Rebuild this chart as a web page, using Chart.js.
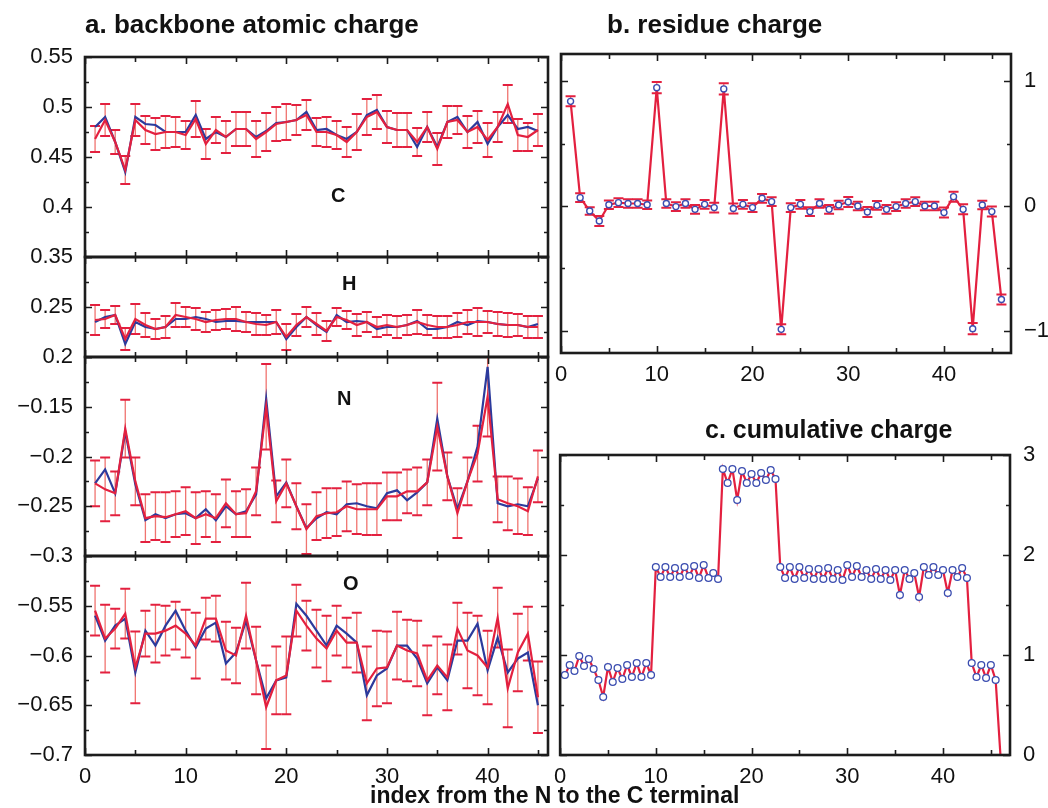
<!DOCTYPE html>
<html>
<head>
<meta charset="utf-8">
<script src="https://cdn.jsdelivr.net/npm/chart.js@4.4.1/dist/chart.umd.min.js"></script>
<style>
  body { margin: 0; width: 1048px; height: 808px; background: #fff; position: relative; overflow: hidden;
         font-family: "Liberation Sans", Arial, sans-serif; color: #111; }
  canvas { position: absolute; }
  .lbl { position: absolute; font-weight: bold; white-space: nowrap; line-height: 1; }
</style>
</head>
<body>
<canvas id="chC" width="570" height="260" style="left:0;top:27px"></canvas>
<canvas id="chH" width="570" height="160" style="left:0;top:227px"></canvas>
<canvas id="chN" width="570" height="259" style="left:0;top:327px"></canvas>
<canvas id="chO" width="570" height="269" style="left:0;top:526px"></canvas>
<canvas id="chB" width="503" height="369" style="left:545px;top:24px"></canvas>
<canvas id="chCum" width="503" height="370" style="left:545px;top:425px"></canvas>

<div class="lbl" style="left:85px;top:11px;font-size:26px">a. backbone atomic charge</div>
<div class="lbl" style="left:607px;top:11px;font-size:26px">b. residue charge</div>
<div class="lbl" style="left:705px;top:417px;font-size:25px">c. cumulative charge</div>
<div class="lbl" style="left:370px;top:784px;font-size:23px">index from the N to the C terminal</div>
<div class="lbl" style="left:331px;top:185px;font-size:20px">C</div>
<div class="lbl" style="left:342px;top:273px;font-size:20px">H</div>
<div class="lbl" style="left:337px;top:388px;font-size:20px">N</div>
<div class="lbl" style="left:343px;top:573px;font-size:20px">O</div>

<script>
// residue index along the chain
var residues = [1,2,3,4,5,6,7,8,9,10,11,12,13,14,15,16,17,18,19,20,21,22,23,24,25,26,27,28,29,30,
                31,32,33,34,35,36,37,38,39,40,41,42,43,44,45];
var residuesB = [1,2,3,4,5,6,7,8,9,10,11,12,13,14,15,16,17,18,19,20,21,22,23,24,25,26,27,28,29,30,
                 31,32,33,34,35,36,37,38,39,40,41,42,43,44,45,46];

// a. backbone atomic charge (red = mean with error bar, blue = second set)
var cRed  = [0.468,0.487,0.465,0.437,0.487,0.477,0.473,0.475,0.475,0.472,0.488,0.463,0.477,0.470,0.478,
             0.478,0.468,0.475,0.483,0.485,0.487,0.492,0.475,0.475,0.472,0.465,0.475,0.490,0.495,0.480,
             0.477,0.477,0.465,0.480,0.458,0.485,0.487,0.475,0.480,0.467,0.480,0.503,0.472,0.470,0.477];
var cBlue = [0.480,0.490,0.465,0.435,0.490,0.483,0.482,0.475,0.475,0.475,0.492,0.468,0.475,0.470,0.478,
             0.478,0.470,0.476,0.484,0.485,0.487,0.495,0.477,0.478,0.472,0.468,0.475,0.492,0.497,0.480,
             0.477,0.477,0.460,0.480,0.460,0.485,0.490,0.475,0.485,0.463,0.480,0.492,0.478,0.480,0.476];
var cErr  = [0.013,0.016,0.012,0.014,0.016,0.014,0.016,0.016,0.015,0.014,0.018,0.015,0.013,0.016,0.017,
             0.017,0.018,0.019,0.017,0.018,0.015,0.015,0.014,0.015,0.014,0.015,0.018,0.018,0.017,0.016,
             0.017,0.017,0.014,0.015,0.016,0.016,0.014,0.016,0.016,0.017,0.015,0.019,0.016,0.014,0.016];

var hRed  = [0.237,0.238,0.242,0.218,0.238,0.232,0.228,0.230,0.242,0.240,0.238,0.235,0.237,0.238,0.238,
             0.235,0.233,0.232,0.235,0.220,0.232,0.240,0.233,0.226,0.240,0.237,0.232,0.235,0.230,0.232,
             0.230,0.232,0.235,0.232,0.230,0.230,0.232,0.235,0.235,0.235,0.233,0.232,0.232,0.230,0.230];
var hBlue = [0.235,0.240,0.242,0.213,0.235,0.230,0.228,0.230,0.238,0.238,0.240,0.238,0.235,0.236,0.236,
             0.235,0.235,0.235,0.235,0.218,0.230,0.240,0.232,0.225,0.242,0.235,0.236,0.235,0.228,0.230,
             0.230,0.232,0.236,0.228,0.228,0.230,0.235,0.232,0.236,0.235,0.233,0.232,0.232,0.230,0.233];
var hErr  = [0.015,0.009,0.009,0.011,0.015,0.012,0.010,0.011,0.012,0.010,0.011,0.010,0.010,0.010,0.012,
             0.010,0.011,0.010,0.012,0.013,0.011,0.010,0.011,0.010,0.009,0.009,0.011,0.010,0.010,0.010,
             0.011,0.010,0.012,0.010,0.011,0.011,0.012,0.012,0.014,0.011,0.012,0.012,0.011,0.011,0.011];

var nRed  = [-0.227,-0.233,-0.237,-0.172,-0.225,-0.262,-0.260,-0.261,-0.258,-0.255,-0.262,-0.258,-0.262,-0.247,-0.258,
             -0.257,-0.235,-0.150,-0.245,-0.227,-0.250,-0.273,-0.260,-0.257,-0.256,-0.250,-0.253,-0.253,-0.253,-0.240,
             -0.240,-0.235,-0.235,-0.226,-0.170,-0.220,-0.257,-0.225,-0.197,-0.140,-0.243,-0.247,-0.250,-0.255,-0.220];
var nBlue = [-0.227,-0.213,-0.237,-0.175,-0.228,-0.264,-0.258,-0.262,-0.258,-0.257,-0.262,-0.253,-0.264,-0.250,-0.258,
             -0.255,-0.238,-0.142,-0.240,-0.226,-0.250,-0.272,-0.262,-0.256,-0.258,-0.248,-0.247,-0.250,-0.252,-0.237,
             -0.234,-0.244,-0.236,-0.226,-0.162,-0.220,-0.253,-0.225,-0.190,-0.110,-0.247,-0.250,-0.248,-0.250,-0.222];
var nErr  = [0.023,0.032,0.022,0.029,0.024,0.024,0.024,0.025,0.023,0.024,0.026,0.023,0.024,0.024,0.023,
             0.024,0.024,0.043,0.021,0.024,0.023,0.025,0.024,0.025,0.024,0.025,0.025,0.026,0.026,0.024,
             0.024,0.022,0.024,0.023,0.044,0.024,0.025,0.024,0.028,0.040,0.023,0.027,0.028,0.024,0.026];

var oRed  = [-0.555,-0.583,-0.573,-0.558,-0.612,-0.578,-0.578,-0.575,-0.570,-0.578,-0.590,-0.563,-0.563,-0.595,-0.600,
             -0.560,-0.605,-0.652,-0.625,-0.620,-0.555,-0.570,-0.583,-0.593,-0.575,-0.587,-0.587,-0.628,-0.613,-0.612,
             -0.590,-0.595,-0.598,-0.625,-0.610,-0.622,-0.573,-0.595,-0.600,-0.612,-0.562,-0.633,-0.597,-0.578,-0.642];
var oBlue = [-0.560,-0.585,-0.570,-0.563,-0.617,-0.575,-0.590,-0.570,-0.555,-0.575,-0.592,-0.573,-0.567,-0.608,-0.597,
             -0.565,-0.605,-0.643,-0.625,-0.622,-0.548,-0.560,-0.575,-0.590,-0.570,-0.578,-0.587,-0.640,-0.620,-0.613,
             -0.590,-0.590,-0.603,-0.628,-0.612,-0.625,-0.585,-0.585,-0.568,-0.615,-0.582,-0.617,-0.603,-0.597,-0.650];
var oErr  = [0.025,0.034,0.020,0.025,0.036,0.023,0.029,0.025,0.024,0.024,0.033,0.021,0.023,0.029,0.028,
             0.033,0.034,0.042,0.034,0.039,0.026,0.025,0.029,0.033,0.025,0.025,0.030,0.037,0.038,0.036,
             0.034,0.031,0.033,0.035,0.029,0.033,0.026,0.038,0.040,0.037,0.030,0.039,0.039,0.027,0.036];

// b. residue charge
var resCharge = [0.84,0.067,-0.04,-0.12,0.01,0.027,0.02,0.02,0.01,0.95,0.02,-0.005,0.02,-0.027,0.013,-0.013,
                 0.94,-0.02,0.013,-0.013,0.062,0.035,-0.99,-0.013,0.013,-0.045,0.02,-0.027,0.008,0.032,0.0,
                 -0.048,0.005,-0.027,-0.005,0.02,0.035,0.0,0.0,-0.053,0.075,-0.027,-0.985,0.008,-0.045,-0.75];
var resErr = [0.04,0.035,0.03,0.04,0.035,0.035,0.035,0.035,0.035,0.045,0.035,0.035,0.035,0.035,0.035,0.04,
              0.045,0.04,0.035,0.035,0.035,0.035,0.04,0.035,0.035,0.035,0.035,0.035,0.035,0.04,0.035,
              0.04,0.035,0.035,0.035,0.035,0.035,0.035,0.035,0.04,0.04,0.04,0.045,0.035,0.04,0.04];

// c. cumulative charge, sampled every half residue
var cumX = [0.5,1,1.5,2,2.5,3,3.5,4,4.5,5,5.5,6,6.5,7,7.5,8,8.5,9,9.5,
            10,10.5,11,11.5,12,12.5,13,13.5,14,14.5,15,15.5,16,16.5,
            17,17.5,18,18.5,19,19.5,20,20.5,21,21.5,22,22.5,
            23,23.5,24,24.5,25,25.5,26,26.5,27,27.5,28,28.5,29,29.5,30,30.5,31,31.5,32,32.5,
            33,33.5,34,34.5,35,35.5,36,36.5,37,37.5,38,38.5,39,39.5,40,40.5,41,41.5,42,42.5,
            43,43.5,44,44.5,45,45.5,46];
var cumY = [0.80,0.90,0.84,0.99,0.89,0.96,0.86,0.75,0.58,0.88,0.73,0.87,0.76,0.90,0.78,0.92,0.78,0.92,0.80,
            1.88,1.78,1.88,1.78,1.87,1.78,1.88,1.79,1.89,1.77,1.90,1.77,1.82,1.76,
            2.86,2.72,2.86,2.55,2.84,2.72,2.81,2.72,2.82,2.75,2.85,2.76,
            1.88,1.77,1.88,1.76,1.88,1.77,1.86,1.76,1.86,1.76,1.87,1.76,1.85,1.75,1.90,1.78,1.89,1.78,1.85,1.76,
            1.86,1.76,1.85,1.75,1.85,1.60,1.85,1.76,1.82,1.58,1.88,1.80,1.88,1.80,1.85,1.62,1.85,1.78,1.87,1.77,
            0.92,0.78,0.90,0.77,0.90,0.75,0.0];

// axis ticks
var xTicks = [0, 10, 20, 30, 40];
var cTicks = [0.35, 0.4, 0.45, 0.5, 0.55];
var hTicks = [0.2, 0.25, 0.3];
var nTicks = [-0.3, -0.25, -0.2, -0.15, -0.1];
var oTicks = [-0.7, -0.65, -0.6, -0.55, -0.5];
var bTicks = [-1, 0, 1];
var cumTicks = [0, 1, 2, 3];

var RED = '#e3203f', BLUE = '#2c3a9c';
Chart.defaults.font.family = "'Liberation Sans', Arial, sans-serif";
Chart.defaults.font.size = 22;
Chart.defaults.color = '#111';

function pts(xs, ys) {
  return xs.map(function (x, k) { return { x: x, y: ys[k] }; });
}
function fmt(v) {
  return String(+v.toFixed(2)).replace('-', '\u2212');
}
function mids(list) {
  var out = [];
  for (var i = 1; i < list.length; i++) out.push((list[i - 1] + list[i]) / 2);
  return out;
}

// frame, inward ticks and error bars
var framePlugin = {
  id: 'frame',
  beforeDatasetsDraw: function (chart, args, o) {
    var ctx = chart.ctx, a = chart.chartArea, ys = chart.scales.y;
    ctx.save();
    ctx.beginPath();
    ctx.rect(a.left, a.top, a.right - a.left, a.bottom - a.top);
    ctx.clip();
    chart.data.datasets.forEach(function (ds, i) {
      if (!ds.errors) return;
      chart.getDatasetMeta(i).data.forEach(function (p, k) {
        var v = ds.data[k].y, e = ds.errors[k];
        var y1 = ys.getPixelForValue(v - e), y2 = ys.getPixelForValue(v + e);
        ctx.strokeStyle = 'rgba(238,100,95,0.9)';
        ctx.lineWidth = 1.3;
        ctx.beginPath(); ctx.moveTo(p.x, y1); ctx.lineTo(p.x, y2); ctx.stroke();
        ctx.strokeStyle = RED;
        ctx.lineWidth = 2;
        ctx.beginPath();
        ctx.moveTo(p.x - o.cap, y1); ctx.lineTo(p.x + o.cap, y1);
        ctx.moveTo(p.x - o.cap, y2); ctx.lineTo(p.x + o.cap, y2);
        ctx.stroke();
      });
    });
    ctx.restore();
  },
  afterDraw: function (chart, args, o) {
    var ctx = chart.ctx, a = chart.chartArea, xs = chart.scales.x, ys = chart.scales.y;
    ctx.save();
    ctx.strokeStyle = '#1c1c1c';
    ctx.lineWidth = 1.6;
    ctx.beginPath();
    function xt(list, len) {
      list.forEach(function (v) {
        var px = Math.round(xs.getPixelForValue(v)) + 0.5;
        ctx.moveTo(px, a.bottom); ctx.lineTo(px, a.bottom - len);
        ctx.moveTo(px, a.top); ctx.lineTo(px, a.top + len);
      });
    }
    function yt(list, len) {
      list.forEach(function (v) {
        var py = Math.round(ys.getPixelForValue(v)) + 0.5;
        ctx.moveTo(a.left, py); ctx.lineTo(a.left + len, py);
        ctx.moveTo(a.right, py); ctx.lineTo(a.right - len, py);
      });
    }
    xt(xTicks, 7);
    xt(mids(xTicks.concat([50])), 5);
    yt(o.yTicks, 7);
    yt(mids(o.yTicks), 4);
    ctx.stroke();
    ctx.lineWidth = 2.6;
    ctx.strokeRect(a.left, a.top, a.right - a.left, a.bottom - a.top);
    ctx.restore();
  }
};
Chart.register(framePlugin);

function xScale(max, show) {
  return {
    type: 'linear', min: 0, max: max, display: show,
    afterBuildTicks: function (s) { s.ticks = xTicks.map(function (v) { return { value: v }; }); },
    afterFit: function (s) { s.height = show ? 40 : 0; },
    grid: { display: false, drawTicks: false },
    border: { display: false },
    ticks: { padding: 9, maxRotation: 0, autoSkip: false, callback: function (v) { return fmt(v); } }
  };
}
function yScale(list, pos, width, pad, hidden) {
  return {
    type: 'linear', position: pos, min: list[0], max: list[list.length - 1],
    afterBuildTicks: function (s) { s.ticks = list.map(function (v) { return { value: v }; }); },
    afterFit: function (s) { s.width = width; },
    grid: { display: false, drawTicks: false },
    border: { display: false },
    ticks: { padding: pad, autoSkip: false,
      callback: function (v) { return (hidden !== undefined && Math.abs(v - hidden) < 1e-6) ? '' : fmt(v); } }
  };
}

function atomPanel(id, red, blue, err, ticks, hidden, showX) {
  return new Chart(document.getElementById(id), {
    type: 'line',
    data: {
      datasets: [
        { data: pts(residues, red), borderColor: RED, borderWidth: 2.2, pointRadius: 0, errors: err, order: 0, tension: 0 },
        { data: pts(residues, blue), borderColor: BLUE, borderWidth: 2.2, pointRadius: 0, order: 1, tension: 0 }
      ]
    },
    options: {
      responsive: false, animation: false, events: [],
      layout: { autoPadding: false, padding: { top: 30, right: 22, bottom: showX ? 0 : 30, left: 0 } },
      plugins: { legend: { display: false }, tooltip: { enabled: false }, frame: { yTicks: ticks, cap: 5 } },
      scales: { x: xScale(46, showX), y: yScale(ticks, 'left', 85, 12, hidden) }
    }
  });
}

atomPanel('chC', cRed, cBlue, cErr, cTicks, undefined, false);
atomPanel('chH', hRed, hBlue, hErr, hTicks, 0.3, false);
atomPanel('chN', nRed, nBlue, nErr, nTicks, -0.1, false);
atomPanel('chO', oRed, oBlue, oErr, oTicks, -0.5, true);

new Chart(document.getElementById('chB'), {
  type: 'line',
  data: {
    datasets: [{
      data: pts(residuesB, resCharge), errors: resErr,
      borderColor: RED, borderWidth: 2.2, tension: 0,
      pointRadius: 3, pointBorderWidth: 1.4, pointBorderColor: '#3b4db0', pointBackgroundColor: '#fff'
    }]
  },
  options: {
    responsive: false, animation: false, events: [],
    layout: { autoPadding: false, padding: { top: 30, right: 0, bottom: 0, left: 16 } },
    plugins: { legend: { display: false }, tooltip: { enabled: false }, frame: { yTicks: bTicks, cap: 5 } },
    scales: { x: xScale(47, true), y: Object.assign(yScale(bTicks, 'right', 37, 13), { min: -1.18, max: 1.22 }) }
  }
});

new Chart(document.getElementById('chCum'), {
  type: 'line',
  data: {
    datasets: [{
      data: pts(cumX, cumY),
      borderColor: RED, borderWidth: 2.2, tension: 0,
      pointRadius: function (c) { return c.raw && c.raw.y === 0 ? 0 : 3.4; },
      pointBorderWidth: 1.3, pointBorderColor: '#3b4db0', pointBackgroundColor: '#fff'
    }]
  },
  options: {
    responsive: false, animation: false, events: [],
    layout: { autoPadding: false, padding: { top: 30, right: 0, bottom: 0, left: 14 } },
    plugins: { legend: { display: false }, tooltip: { enabled: false }, frame: { yTicks: cumTicks, cap: 0 } },
    scales: { x: xScale(47, true), y: yScale(cumTicks, 'right', 38, 13) }
  }
});
</script>
</body>
</html>
